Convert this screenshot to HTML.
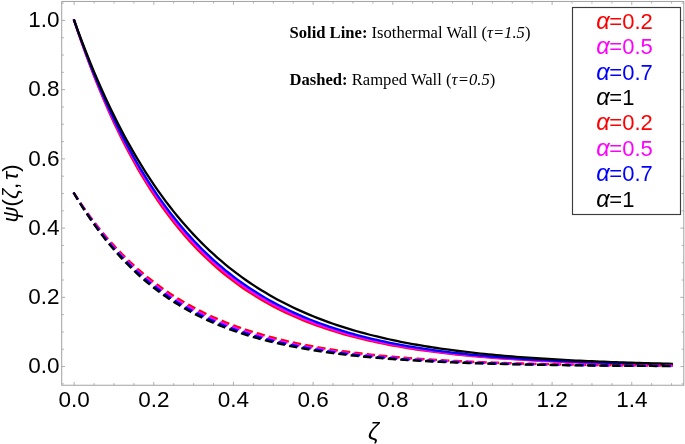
<!DOCTYPE html>
<html><head><meta charset="utf-8"><title>plot</title>
<style>html,body{margin:0;padding:0;background:#fff}svg{display:block;will-change:transform}text{font-family:"Liberation Sans",sans-serif}</style></head><body>
<svg width="685" height="444" viewBox="0 0 685 444">
<rect width="685" height="444" fill="#fff"/>
<path d="M74.15 385.25 v-3.4M74.15 1.45 v3.4M94.07 385.25 v-2.1M94.07 1.45 v2.1M113.98 385.25 v-2.1M113.98 1.45 v2.1M133.90 385.25 v-2.1M133.90 1.45 v2.1M153.81 385.25 v-3.4M153.81 1.45 v3.4M173.73 385.25 v-2.1M173.73 1.45 v2.1M193.64 385.25 v-2.1M193.64 1.45 v2.1M213.56 385.25 v-2.1M213.56 1.45 v2.1M233.47 385.25 v-3.4M233.47 1.45 v3.4M253.39 385.25 v-2.1M253.39 1.45 v2.1M273.30 385.25 v-2.1M273.30 1.45 v2.1M293.22 385.25 v-2.1M293.22 1.45 v2.1M313.13 385.25 v-3.4M313.13 1.45 v3.4M333.05 385.25 v-2.1M333.05 1.45 v2.1M352.96 385.25 v-2.1M352.96 1.45 v2.1M372.88 385.25 v-2.1M372.88 1.45 v2.1M392.79 385.25 v-3.4M392.79 1.45 v3.4M412.71 385.25 v-2.1M412.71 1.45 v2.1M432.62 385.25 v-2.1M432.62 1.45 v2.1M452.54 385.25 v-2.1M452.54 1.45 v2.1M472.45 385.25 v-3.4M472.45 1.45 v3.4M492.37 385.25 v-2.1M492.37 1.45 v2.1M512.28 385.25 v-2.1M512.28 1.45 v2.1M532.20 385.25 v-2.1M532.20 1.45 v2.1M552.11 385.25 v-3.4M552.11 1.45 v3.4M572.02 385.25 v-2.1M572.02 1.45 v2.1M591.94 385.25 v-2.1M591.94 1.45 v2.1M611.86 385.25 v-2.1M611.86 1.45 v2.1M631.77 385.25 v-3.4M631.77 1.45 v3.4M651.69 385.25 v-2.1M651.69 1.45 v2.1M671.60 385.25 v-2.1M671.60 1.45 v2.1M61.7 383.86 h2.1M683.8 383.86 h-2.1M61.7 366.55 h3.4M683.8 366.55 h-3.4M61.7 349.25 h2.1M683.8 349.25 h-2.1M61.7 331.94 h2.1M683.8 331.94 h-2.1M61.7 314.63 h2.1M683.8 314.63 h-2.1M61.7 297.33 h3.4M683.8 297.33 h-3.4M61.7 280.02 h2.1M683.8 280.02 h-2.1M61.7 262.72 h2.1M683.8 262.72 h-2.1M61.7 245.41 h2.1M683.8 245.41 h-2.1M61.7 228.11 h3.4M683.8 228.11 h-3.4M61.7 210.81 h2.1M683.8 210.81 h-2.1M61.7 193.50 h2.1M683.8 193.50 h-2.1M61.7 176.19 h2.1M683.8 176.19 h-2.1M61.7 158.89 h3.4M683.8 158.89 h-3.4M61.7 141.58 h2.1M683.8 141.58 h-2.1M61.7 124.28 h2.1M683.8 124.28 h-2.1M61.7 106.97 h2.1M683.8 106.97 h-2.1M61.7 89.67 h3.4M683.8 89.67 h-3.4M61.7 72.36 h2.1M683.8 72.36 h-2.1M61.7 55.06 h2.1M683.8 55.06 h-2.1M61.7 37.75 h2.1M683.8 37.75 h-2.1M61.7 20.45 h3.4M683.8 20.45 h-3.4M61.7 3.14 h2.1M683.8 3.14 h-2.1" stroke="#a6a6a6" stroke-width="0.9" fill="none"/>
<rect x="61.7" y="1.45" width="622.0999999999999" height="383.8" fill="none" stroke="#a2a2a2" stroke-width="1"/>
<path d="M74.15 20.45L78.13 32.35L82.12 43.85L86.10 54.95L90.08 65.67L94.07 76.01L98.05 86.01L102.03 95.66L106.01 104.97L110.00 113.97L113.98 122.66L117.96 131.05L121.95 139.15L125.93 146.97L129.91 154.52L133.90 161.81L137.88 168.85L141.86 175.65L145.84 182.22L149.83 188.56L153.81 194.68L157.79 200.59L161.78 206.30L165.76 211.81L169.74 217.13L173.73 222.27L177.71 227.24L181.69 232.03L185.67 236.65L189.66 241.12L193.64 245.44L197.62 249.60L201.61 253.62L205.59 257.51L209.57 261.26L213.56 264.88L217.54 268.38L221.52 271.75L225.50 275.01L229.49 278.16L233.47 281.20L237.45 284.14L241.44 286.97L245.42 289.71L249.40 292.35L253.39 294.90L257.37 297.37L261.35 299.75L265.33 302.05L269.32 304.26L273.30 306.41L277.28 308.48L281.27 310.47L285.25 312.40L289.23 314.26L293.22 316.06L297.20 317.80L301.18 319.48L305.16 321.09L309.15 322.66L313.13 324.17L317.11 325.63L321.10 327.03L325.08 328.39L329.06 329.70L333.05 330.97L337.03 332.20L341.01 333.38L344.99 334.52L348.98 335.62L352.96 336.68L356.94 337.71L360.93 338.70L364.91 339.66L368.89 340.59L372.88 341.48L376.86 342.34L380.84 343.17L384.82 343.98L388.81 344.75L392.79 345.50L396.77 346.23L400.76 346.93L404.74 347.60L408.72 348.25L412.71 348.88L416.69 349.49L420.67 350.08L424.65 350.64L428.64 351.19L432.62 351.72L436.60 352.23L440.59 352.72L444.57 353.20L448.55 353.66L452.53 354.10L456.52 354.53L460.50 354.94L464.48 355.34L468.47 355.73L472.45 356.10L476.43 356.46L480.42 356.81L484.40 357.14L488.38 357.46L492.37 357.78L496.35 358.08L500.33 358.37L504.31 358.65L508.30 358.92L512.28 359.19L516.26 359.44L520.25 359.68L524.23 359.92L528.21 360.15L532.19 360.37L536.18 360.58L540.16 360.79L544.14 360.98L548.13 361.18L552.11 361.36L556.09 361.54L560.08 361.71L564.06 361.88L568.04 362.04L572.02 362.19L576.01 362.34L579.99 362.49L583.97 362.63L587.96 362.76L591.94 362.89L595.92 363.02L599.91 363.14L603.89 363.26L607.87 363.37L611.86 363.48L615.84 363.59L619.82 363.69L623.80 363.79L627.79 363.88L631.77 363.97L635.75 364.06L639.74 364.15L643.72 364.23L647.70 364.31L651.68 364.39L655.67 364.46L659.65 364.53L663.63 364.60L667.62 364.67L671.60 364.73" stroke="#ff0000" stroke-width="2.3" fill="none" stroke-linejoin="round" stroke-linecap="square"/>
<path d="M74.15 20.45L78.13 32.12L82.12 43.40L86.10 54.30L90.08 64.84L94.07 75.02L98.05 84.86L102.03 94.37L106.01 103.55L110.00 112.44L113.98 121.02L117.96 129.31L121.95 137.33L125.93 145.07L129.91 152.56L133.90 159.79L137.88 166.78L141.86 173.54L145.84 180.06L149.83 186.37L153.81 192.47L157.79 198.36L161.78 204.05L165.76 209.55L169.74 214.87L173.73 220.00L177.71 224.97L181.69 229.76L185.67 234.39L189.66 238.87L193.64 243.20L197.62 247.38L201.61 251.42L205.59 255.32L209.57 259.10L213.56 262.74L217.54 266.26L221.52 269.67L225.50 272.95L229.49 276.13L233.47 279.20L237.45 282.17L241.44 285.03L245.42 287.80L249.40 290.47L253.39 293.06L257.37 295.56L261.35 297.97L265.33 300.30L269.32 302.55L273.30 304.73L277.28 306.83L281.27 308.86L285.25 310.83L289.23 312.72L293.22 314.55L297.20 316.32L301.18 318.03L305.16 319.69L309.15 321.28L313.13 322.82L317.11 324.31L321.10 325.75L325.08 327.14L329.06 328.49L333.05 329.78L337.03 331.04L341.01 332.25L344.99 333.42L348.98 334.55L352.96 335.64L356.94 336.70L360.93 337.72L364.91 338.70L368.89 339.65L372.88 340.57L376.86 341.46L380.84 342.31L384.82 343.14L388.81 343.94L392.79 344.71L396.77 345.46L400.76 346.18L404.74 346.88L408.72 347.55L412.71 348.20L416.69 348.83L420.67 349.44L424.65 350.02L428.64 350.59L432.62 351.13L436.60 351.66L440.59 352.17L444.57 352.66L448.55 353.14L452.53 353.60L456.52 354.04L460.50 354.47L464.48 354.89L468.47 355.29L472.45 355.67L476.43 356.05L480.42 356.41L484.40 356.75L488.38 357.09L492.37 357.41L496.35 357.73L500.33 358.03L504.31 358.32L508.30 358.61L512.28 358.88L516.26 359.14L520.25 359.40L524.23 359.64L528.21 359.88L532.19 360.11L536.18 360.33L540.16 360.55L544.14 360.75L548.13 360.95L552.11 361.14L556.09 361.33L560.08 361.51L564.06 361.68L568.04 361.85L572.02 362.01L576.01 362.17L579.99 362.32L583.97 362.47L587.96 362.61L591.94 362.74L595.92 362.87L599.91 363.00L603.89 363.12L607.87 363.24L611.86 363.36L615.84 363.47L619.82 363.57L623.80 363.67L627.79 363.77L631.77 363.87L635.75 363.96L639.74 364.05L643.72 364.14L647.70 364.22L651.68 364.30L655.67 364.38L659.65 364.45L663.63 364.53L667.62 364.60L671.60 364.66" stroke="#ff00ff" stroke-width="2.3" fill="none" stroke-linejoin="round" stroke-linecap="square"/>
<path d="M74.15 20.45L78.13 31.89L82.12 42.95L86.10 53.64L90.08 63.99L94.07 73.99L98.05 83.66L102.03 93.01L106.01 102.06L110.00 110.81L113.98 119.27L117.96 127.45L121.95 135.36L125.93 143.01L129.91 150.41L133.90 157.56L137.88 164.48L141.86 171.17L145.84 177.64L149.83 183.89L153.81 189.94L157.79 195.79L161.78 201.45L165.76 206.92L169.74 212.21L173.73 217.32L177.71 222.27L181.69 227.05L185.67 231.67L189.66 236.14L193.64 240.47L197.62 244.65L201.61 248.69L205.59 252.60L209.57 256.38L213.56 260.04L217.54 263.57L221.52 266.99L225.50 270.29L229.49 273.49L233.47 276.58L237.45 279.56L241.44 282.45L245.42 285.24L249.40 287.94L253.39 290.55L257.37 293.08L261.35 295.52L265.33 297.88L269.32 300.16L273.30 302.37L277.28 304.50L281.27 306.56L285.25 308.56L289.23 310.49L293.22 312.35L297.20 314.15L301.18 315.90L305.16 317.58L309.15 319.21L313.13 320.78L317.11 322.31L321.10 323.78L325.08 325.20L329.06 326.58L333.05 327.91L337.03 329.20L341.01 330.44L344.99 331.64L348.98 332.81L352.96 333.93L356.94 335.02L360.93 336.07L364.91 337.08L368.89 338.07L372.88 339.01L376.86 339.93L380.84 340.82L384.82 341.68L388.81 342.51L392.79 343.31L396.77 344.08L400.76 344.83L404.74 345.56L408.72 346.26L412.71 346.94L416.69 347.59L420.67 348.22L424.65 348.83L428.64 349.43L432.62 350.00L436.60 350.55L440.59 351.08L444.57 351.60L448.55 352.10L452.53 352.58L456.52 353.05L460.50 353.50L464.48 353.94L468.47 354.36L472.45 354.77L476.43 355.16L480.42 355.54L484.40 355.91L488.38 356.26L492.37 356.61L496.35 356.94L500.33 357.26L504.31 357.57L508.30 357.87L512.28 358.16L516.26 358.44L520.25 358.72L524.23 358.98L528.21 359.23L532.19 359.48L536.18 359.71L540.16 359.94L544.14 360.16L548.13 360.38L552.11 360.58L556.09 360.78L560.08 360.98L564.06 361.16L568.04 361.35L572.02 361.52L576.01 361.69L579.99 361.85L583.97 362.01L587.96 362.16L591.94 362.31L595.92 362.45L599.91 362.59L603.89 362.72L607.87 362.85L611.86 362.97L615.84 363.09L619.82 363.21L623.80 363.32L627.79 363.43L631.77 363.54L635.75 363.64L639.74 363.73L643.72 363.83L647.70 363.92L651.68 364.01L655.67 364.09L659.65 364.18L663.63 364.26L667.62 364.33L671.60 364.41" stroke="#0000ff" stroke-width="2.3" fill="none" stroke-linejoin="round" stroke-linecap="square"/>
<path d="M74.15 20.45L78.13 31.40L82.12 42.00L86.10 52.27L90.08 62.22L94.07 71.84L98.05 81.17L102.03 90.20L106.01 98.94L110.00 107.41L113.98 115.61L117.96 123.55L121.95 131.23L125.93 138.68L129.91 145.89L133.90 152.87L137.88 159.63L141.86 166.18L145.84 172.52L149.83 178.66L153.81 184.60L157.79 190.36L161.78 195.93L165.76 201.33L169.74 206.56L173.73 211.62L177.71 216.52L181.69 221.27L185.67 225.86L189.66 230.32L193.64 234.63L197.62 238.80L201.61 242.84L205.59 246.76L209.57 250.55L213.56 254.22L217.54 257.77L221.52 261.21L225.50 264.54L229.49 267.77L233.47 270.90L237.45 273.92L241.44 276.85L245.42 279.69L249.40 282.44L253.39 285.10L257.37 287.68L261.35 290.17L265.33 292.59L269.32 294.93L273.30 297.20L277.28 299.39L281.27 301.51L285.25 303.57L289.23 305.57L293.22 307.49L297.20 309.36L301.18 311.17L305.16 312.92L309.15 314.62L313.13 316.26L317.11 317.85L321.10 319.40L325.08 320.89L329.06 322.33L333.05 323.73L337.03 325.09L341.01 326.40L344.99 327.67L348.98 328.90L352.96 330.09L356.94 331.24L360.93 332.36L364.91 333.44L368.89 334.49L372.88 335.50L376.86 336.49L380.84 337.44L384.82 338.36L388.81 339.25L392.79 340.11L396.77 340.95L400.76 341.76L404.74 342.54L408.72 343.30L412.71 344.04L416.69 344.75L420.67 345.44L424.65 346.11L428.64 346.76L432.62 347.38L436.60 347.99L440.59 348.58L444.57 349.14L448.55 349.70L452.53 350.23L456.52 350.74L460.50 351.25L464.48 351.73L468.47 352.20L472.45 352.65L476.43 353.09L480.42 353.52L484.40 353.93L488.38 354.33L492.37 354.72L496.35 355.09L500.33 355.45L504.31 355.80L508.30 356.14L512.28 356.47L516.26 356.79L520.25 357.10L524.23 357.40L528.21 357.69L532.19 357.97L536.18 358.24L540.16 358.50L544.14 358.76L548.13 359.01L552.11 359.24L556.09 359.47L560.08 359.70L564.06 359.92L568.04 360.13L572.02 360.33L576.01 360.53L579.99 360.72L583.97 360.90L587.96 361.08L591.94 361.25L595.92 361.42L599.91 361.58L603.89 361.74L607.87 361.89L611.86 362.04L615.84 362.18L619.82 362.32L623.80 362.45L627.79 362.58L631.77 362.71L635.75 362.83L639.74 362.95L643.72 363.06L647.70 363.17L651.68 363.28L655.67 363.38L659.65 363.48L663.63 363.58L667.62 363.67L671.60 363.77" stroke="#000000" stroke-width="2.3" fill="none" stroke-linejoin="round" stroke-linecap="square"/>
<path d="M74.15 193.50L78.13 199.59L82.12 205.47L86.10 211.15L90.08 216.62L94.07 221.90L98.05 226.99L102.03 231.91L106.01 236.65L110.00 241.22L113.98 245.64L117.96 249.89L121.95 254.00L125.93 257.97L129.91 261.79L133.90 265.48L137.88 269.04L141.86 272.47L145.84 275.78L149.83 278.98L153.81 282.06L157.79 285.04L161.78 287.91L165.76 290.68L169.74 293.35L173.73 295.93L177.71 298.42L181.69 300.82L185.67 303.13L189.66 305.36L193.64 307.52L197.62 309.60L201.61 311.60L205.59 313.54L209.57 315.40L213.56 317.21L217.54 318.94L221.52 320.62L225.50 322.24L229.49 323.80L233.47 325.30L237.45 326.76L241.44 328.16L245.42 329.51L249.40 330.81L253.39 332.07L257.37 333.29L261.35 334.46L265.33 335.59L269.32 336.68L273.30 337.73L277.28 338.74L281.27 339.72L285.25 340.67L289.23 341.58L293.22 342.46L297.20 343.31L301.18 344.13L305.16 344.92L309.15 345.68L313.13 346.41L317.11 347.12L321.10 347.81L325.08 348.47L329.06 349.10L333.05 349.72L337.03 350.31L341.01 350.88L344.99 351.43L348.98 351.97L352.96 352.48L356.94 352.97L360.93 353.45L364.91 353.91L368.89 354.36L372.88 354.79L376.86 355.20L380.84 355.60L384.82 355.99L388.81 356.36L392.79 356.72L396.77 357.06L400.76 357.40L404.74 357.72L408.72 358.03L412.71 358.33L416.69 358.62L420.67 358.90L424.65 359.17L428.64 359.43L432.62 359.68L436.60 359.92L440.59 360.16L444.57 360.38L448.55 360.60L452.53 360.81L456.52 361.01L460.50 361.21L464.48 361.39L468.47 361.57L472.45 361.75L476.43 361.92L480.42 362.08L484.40 362.24L488.38 362.39L492.37 362.54L496.35 362.68L500.33 362.82L504.31 362.95L508.30 363.07L512.28 363.20L516.26 363.31L520.25 363.43L524.23 363.54L528.21 363.64L532.19 363.75L536.18 363.85L540.16 363.94L544.14 364.03L548.13 364.12L552.11 364.21L556.09 364.29L560.08 364.37L564.06 364.45L568.04 364.52L572.02 364.59L576.01 364.66L579.99 364.73L583.97 364.79L587.96 364.85L591.94 364.91L595.92 364.97L599.91 365.03L603.89 365.08L607.87 365.13L611.86 365.18L615.84 365.23L619.82 365.28L623.80 365.32L627.79 365.36L631.77 365.41L635.75 365.45L639.74 365.49L643.72 365.52L647.70 365.56L651.68 365.59L655.67 365.63L659.65 365.66L663.63 365.69L667.62 365.72L671.60 365.75" stroke="#ff0000" stroke-width="2.3" fill="none" stroke-linecap="square" stroke-dasharray="5.9 6.55" stroke-linejoin="round"/>
<path d="M74.15 193.50L78.13 199.79L82.12 205.84L86.10 211.68L90.08 217.31L94.07 222.73L98.05 227.95L102.03 232.99L106.01 237.84L110.00 242.51L113.98 247.02L117.96 251.36L121.95 255.54L125.93 259.58L129.91 263.46L133.90 267.21L137.88 270.82L141.86 274.29L145.84 277.64L149.83 280.87L153.81 283.99L157.79 286.98L161.78 289.87L165.76 292.66L169.74 295.34L173.73 297.93L177.71 300.42L181.69 302.82L185.67 305.14L189.66 307.37L193.64 309.52L197.62 311.59L201.61 313.59L205.59 315.51L209.57 317.37L213.56 319.15L217.54 320.87L221.52 322.53L225.50 324.13L229.49 325.67L233.47 327.16L237.45 328.59L241.44 329.97L245.42 331.30L249.40 332.58L253.39 333.81L257.37 335.00L261.35 336.15L265.33 337.25L269.32 338.31L273.30 339.34L277.28 340.33L281.27 341.28L285.25 342.20L289.23 343.08L293.22 343.94L297.20 344.76L301.18 345.55L305.16 346.31L309.15 347.05L313.13 347.76L317.11 348.44L321.10 349.10L325.08 349.73L329.06 350.34L333.05 350.93L337.03 351.50L341.01 352.04L344.99 352.57L348.98 353.08L352.96 353.57L356.94 354.04L360.93 354.49L364.91 354.93L368.89 355.35L372.88 355.76L376.86 356.15L380.84 356.53L384.82 356.89L388.81 357.24L392.79 357.58L396.77 357.91L400.76 358.22L404.74 358.52L408.72 358.82L412.71 359.10L416.69 359.37L420.67 359.63L424.65 359.88L428.64 360.12L432.62 360.36L436.60 360.58L440.59 360.80L444.57 361.01L448.55 361.21L452.53 361.40L456.52 361.59L460.50 361.77L464.48 361.94L468.47 362.11L472.45 362.27L476.43 362.43L480.42 362.58L484.40 362.72L488.38 362.86L492.37 362.99L496.35 363.12L500.33 363.25L504.31 363.37L508.30 363.48L512.28 363.59L516.26 363.70L520.25 363.81L524.23 363.91L528.21 364.00L532.19 364.09L536.18 364.18L540.16 364.27L544.14 364.35L548.13 364.43L552.11 364.51L556.09 364.58L560.08 364.65L564.06 364.72L568.04 364.79L572.02 364.85L576.01 364.92L579.99 364.97L583.97 365.03L587.96 365.09L591.94 365.14L595.92 365.19L599.91 365.24L603.89 365.29L607.87 365.33L611.86 365.38L615.84 365.42L619.82 365.46L623.80 365.50L627.79 365.54L631.77 365.58L635.75 365.61L639.74 365.65L643.72 365.68L647.70 365.71L651.68 365.74L655.67 365.77L659.65 365.80L663.63 365.83L667.62 365.85L671.60 365.88" stroke="#ff00ff" stroke-width="2.3" fill="none" stroke-linecap="square" stroke-dasharray="5.9 6.55" stroke-linejoin="round"/>
<path d="M74.15 193.50L78.13 199.99L82.12 206.23L86.10 212.24L90.08 218.02L94.07 223.59L98.05 228.95L102.03 234.10L106.01 239.07L110.00 243.85L113.98 248.44L117.96 252.87L121.95 257.13L125.93 261.23L129.91 265.18L133.90 268.98L137.88 272.64L141.86 276.16L145.84 279.54L149.83 282.80L153.81 285.94L157.79 288.96L161.78 291.87L165.76 294.67L169.74 297.37L173.73 299.96L177.71 302.45L181.69 304.86L185.67 307.17L189.66 309.39L193.64 311.54L197.62 313.60L201.61 315.58L205.59 317.49L209.57 319.33L213.56 321.10L217.54 322.80L221.52 324.44L225.50 326.02L229.49 327.54L233.47 329.00L237.45 330.41L241.44 331.77L245.42 333.07L249.40 334.32L253.39 335.53L257.37 336.69L261.35 337.81L265.33 338.89L269.32 339.93L273.30 340.92L277.28 341.89L281.27 342.81L285.25 343.70L289.23 344.56L293.22 345.38L297.20 346.17L301.18 346.94L305.16 347.67L309.15 348.38L313.13 349.06L317.11 349.72L321.10 350.35L325.08 350.95L329.06 351.54L333.05 352.10L337.03 352.64L341.01 353.16L344.99 353.67L348.98 354.15L352.96 354.61L356.94 355.06L360.93 355.49L364.91 355.91L368.89 356.31L372.88 356.69L376.86 357.06L380.84 357.41L384.82 357.76L388.81 358.09L392.79 358.40L396.77 358.71L400.76 359.00L404.74 359.29L408.72 359.56L412.71 359.82L416.69 360.07L420.67 360.31L424.65 360.55L428.64 360.77L432.62 360.99L436.60 361.20L440.59 361.40L444.57 361.59L448.55 361.78L452.53 361.96L456.52 362.13L460.50 362.29L464.48 362.45L468.47 362.61L472.45 362.76L476.43 362.90L480.42 363.03L484.40 363.17L488.38 363.29L492.37 363.42L496.35 363.53L500.33 363.65L504.31 363.75L508.30 363.86L512.28 363.96L516.26 364.06L520.25 364.15L524.23 364.24L528.21 364.33L532.19 364.41L536.18 364.49L540.16 364.57L544.14 364.64L548.13 364.71L552.11 364.78L556.09 364.85L560.08 364.91L564.06 364.97L568.04 365.03L572.02 365.09L576.01 365.14L579.99 365.20L583.97 365.25L587.96 365.30L591.94 365.34L595.92 365.39L599.91 365.43L603.89 365.47L607.87 365.51L611.86 365.55L615.84 365.59L619.82 365.63L623.80 365.66L627.79 365.69L631.77 365.73L635.75 365.76L639.74 365.79L643.72 365.82L647.70 365.84L651.68 365.87L655.67 365.90L659.65 365.92L663.63 365.94L667.62 365.97L671.60 365.99" stroke="#0000ff" stroke-width="2.3" fill="none" stroke-linecap="square" stroke-dasharray="5.9 6.55" stroke-linejoin="round"/>
<path d="M74.15 193.50L78.13 200.18L82.12 206.60L86.10 212.77L90.08 218.70L94.07 224.41L98.05 229.89L102.03 235.17L106.01 240.23L110.00 245.11L113.98 249.79L117.96 254.30L121.95 258.63L125.93 262.80L129.91 266.80L133.90 270.65L137.88 274.35L141.86 277.91L145.84 281.33L149.83 284.61L153.81 287.78L157.79 290.82L161.78 293.74L165.76 296.55L169.74 299.25L173.73 301.85L177.71 304.34L181.69 306.74L185.67 309.05L189.66 311.27L193.64 313.40L197.62 315.45L201.61 317.42L205.59 319.32L209.57 321.14L213.56 322.89L217.54 324.58L221.52 326.20L225.50 327.76L229.49 329.25L233.47 330.69L237.45 332.08L241.44 333.41L245.42 334.68L249.40 335.91L253.39 337.10L257.37 338.23L261.35 339.33L265.33 340.38L269.32 341.39L273.30 342.36L277.28 343.29L281.27 344.19L285.25 345.05L289.23 345.88L293.22 346.68L297.20 347.44L301.18 348.18L305.16 348.89L309.15 349.57L313.13 350.23L317.11 350.86L321.10 351.46L325.08 352.04L329.06 352.60L333.05 353.14L337.03 353.66L341.01 354.16L344.99 354.64L348.98 355.09L352.96 355.54L356.94 355.96L360.93 356.37L364.91 356.76L368.89 357.14L372.88 357.50L376.86 357.85L380.84 358.19L384.82 358.51L388.81 358.82L392.79 359.12L396.77 359.41L400.76 359.68L404.74 359.95L408.72 360.20L412.71 360.45L416.69 360.68L420.67 360.91L424.65 361.13L428.64 361.34L432.62 361.54L436.60 361.73L440.59 361.92L444.57 362.09L448.55 362.27L452.53 362.43L456.52 362.59L460.50 362.74L464.48 362.89L468.47 363.03L472.45 363.17L476.43 363.30L480.42 363.42L484.40 363.54L488.38 363.66L492.37 363.77L496.35 363.88L500.33 363.98L504.31 364.08L508.30 364.18L512.28 364.27L516.26 364.36L520.25 364.44L524.23 364.52L528.21 364.60L532.19 364.68L536.18 364.75L540.16 364.82L544.14 364.88L548.13 364.95L552.11 365.01L556.09 365.07L560.08 365.13L564.06 365.18L568.04 365.23L572.02 365.29L576.01 365.33L579.99 365.38L583.97 365.43L587.96 365.47L591.94 365.51L595.92 365.55L599.91 365.59L603.89 365.63L607.87 365.66L611.86 365.70L615.84 365.73L619.82 365.76L623.80 365.79L627.79 365.82L631.77 365.85L635.75 365.88L639.74 365.90L643.72 365.93L647.70 365.95L651.68 365.97L655.67 366.00L659.65 366.02L663.63 366.04L667.62 366.06L671.60 366.08" stroke="#000000" stroke-width="2.3" fill="none" stroke-linecap="square" stroke-dasharray="5.9 6.55" stroke-linejoin="round"/>
<text x="74.15" y="407.4" font-size="22.5" text-anchor="middle">0.0</text>
<text x="153.81" y="407.4" font-size="22.5" text-anchor="middle">0.2</text>
<text x="233.47" y="407.4" font-size="22.5" text-anchor="middle">0.4</text>
<text x="313.13" y="407.4" font-size="22.5" text-anchor="middle">0.6</text>
<text x="392.79" y="407.4" font-size="22.5" text-anchor="middle">0.8</text>
<text x="472.45" y="407.4" font-size="22.5" text-anchor="middle">1.0</text>
<text x="552.11" y="407.4" font-size="22.5" text-anchor="middle">1.2</text>
<text x="631.77" y="407.4" font-size="22.5" text-anchor="middle">1.4</text>
<text x="59.6" y="373.35" font-size="22.5" text-anchor="end">0.0</text>
<text x="59.6" y="304.13" font-size="22.5" text-anchor="end">0.2</text>
<text x="59.6" y="234.91" font-size="22.5" text-anchor="end">0.4</text>
<text x="59.6" y="165.69" font-size="22.5" text-anchor="end">0.6</text>
<text x="59.6" y="96.47" font-size="22.5" text-anchor="end">0.8</text>
<text x="59.6" y="27.25" font-size="22.5" text-anchor="end">1.0</text>
<text x="373.6" y="439.6" font-size="24" font-style="italic" text-anchor="middle">ζ</text>
<text transform="translate(17.5,193.4) rotate(-90)" font-size="22" text-anchor="middle"><tspan font-style="italic">ψ</tspan>(<tspan font-style="italic">ζ</tspan>,<tspan font-style="italic" dx="2.9">τ</tspan>)</text>
<text x="289.5" y="38.3" font-size="16.6" style="font-family:'Liberation Serif',serif"><tspan font-weight="bold">Solid Line:</tspan> Isothermal Wall (<tspan font-style="italic">τ=1.5</tspan>)</text>
<text x="289.5" y="84.6" font-size="16.6" style="font-family:'Liberation Serif',serif"><tspan font-weight="bold">Dashed:</tspan> Ramped Wall (<tspan font-style="italic">τ<tspan dx="0.3">=0.5</tspan></tspan>)</text>
<rect x="572.5" y="7.5" width="108" height="207" fill="#fff" stroke="#3c3c3c" stroke-width="1.15"/>
<text x="596.2" y="28.70" font-size="22" fill="#ff0000"><tspan font-style="italic" font-size="23.6">α</tspan><tspan x="609.3">=0.2</tspan></text>
<text x="596.2" y="54.11" font-size="22" fill="#ff00ff"><tspan font-style="italic" font-size="23.6">α</tspan><tspan x="609.3">=0.5</tspan></text>
<text x="596.2" y="79.52" font-size="22" fill="#0000ff"><tspan font-style="italic" font-size="23.6">α</tspan><tspan x="609.3">=0.7</tspan></text>
<text x="596.2" y="104.93" font-size="22" fill="#000000"><tspan font-style="italic" font-size="23.6">α</tspan><tspan x="609.3">=1</tspan></text>
<text x="596.2" y="130.34" font-size="22" fill="#ff0000"><tspan font-style="italic" font-size="23.6">α</tspan><tspan x="609.3">=0.2</tspan></text>
<text x="596.2" y="155.75" font-size="22" fill="#ff00ff"><tspan font-style="italic" font-size="23.6">α</tspan><tspan x="609.3">=0.5</tspan></text>
<text x="596.2" y="181.16" font-size="22" fill="#0000ff"><tspan font-style="italic" font-size="23.6">α</tspan><tspan x="609.3">=0.7</tspan></text>
<text x="596.2" y="206.57" font-size="22" fill="#000000"><tspan font-style="italic" font-size="23.6">α</tspan><tspan x="609.3">=1</tspan></text>
</svg></body></html>
